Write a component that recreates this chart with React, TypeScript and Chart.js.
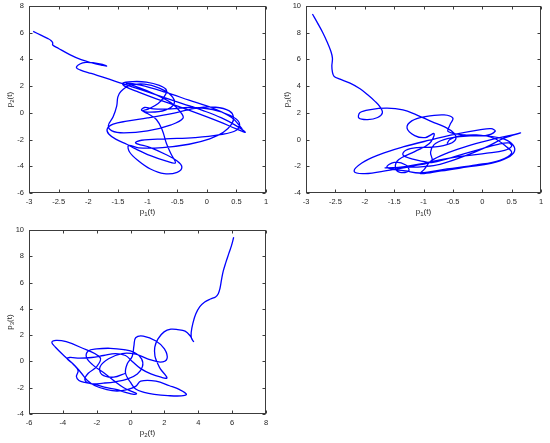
import React, { useEffect, useRef } from "react";
import { Chart, registerables } from "chart.js";

Chart.register(...registerables);

// ---- Data (trajectory projections) ----
// Panel 1: p1(t) vs p2(t)
const pathP1P2: number[][] = [
  [-2.93, 6.1], [-2.8, 5.82], [-2.68, 5.56], [-2.63, 5.42], [-2.6, 5.25], [-2.6, 5.08], [-2.5, 4.82], [-2.32, 4.38],
  [-2.12, 3.98], [-1.92, 3.72], [-1.78, 3.58], [-1.69, 3.5], [-1.76, 3.62], [-1.9, 3.74], [-2.04, 3.78], [-2.14, 3.66],
  [-2.2, 3.4], [-2.14, 3.22],
  [-1.95, 2.95], [-1.7, 2.6], [-1.42, 2.18], [-1.1, 1.72], [-0.75, 1.2], [-0.4, 0.68], [-0.05, 0.15], [0.25, -0.38],
  [0.48, -0.92], [0.65, -1.45],
  [0.5, -1.2], [0.22, -0.68], [-0.12, -0.1], [-0.48, 0.48], [-0.85, 1.05], [-1.15, 1.55], [-1.38, 1.98], [-1.42, 2.22],
  [-1.25, 2.34], [-1.02, 2.3], [-0.8, 2.05], [-0.68, 1.7],
  [-0.72, 1.2], [-0.82, 0.7], [-0.98, 0.3], [-1.08, 0.15], [-1.0, -0.05], [-0.85, -0.5], [-0.75, -1.3], [-0.68, -2.3],
  [-0.6, -3.1], [-0.53, -3.75], [-0.68, -3.62], [-0.95, -3.2], [-1.2, -2.7], [-1.35, -2.35],
  [-1.52, -2.0], [-1.65, -1.6], [-1.68, -1.2], [-1.58, -0.85], [-1.35, -0.62], [-1.0, -0.38], [-0.55, -0.02], [-0.15, 0.38],
  [0.15, 0.42], [0.38, 0.15], [0.45, -0.3], [0.42, -0.85], [0.28, -1.45], [0.05, -1.95], [-0.3, -2.35], [-0.75, -2.6],
  [-1.15, -2.62], [-1.32, -2.45],
  [-1.3, -2.95], [-1.15, -3.6], [-0.95, -4.2], [-0.72, -4.55], [-0.5, -4.45], [-0.42, -4.05], [-0.5, -3.6], [-0.7, -3.1],
  [-0.95, -2.6], [-1.2, -2.25],
  [-1.1, -2.05], [-0.7, -1.95], [-0.2, -1.85], [0.2, -1.65], [0.5, -1.3], [0.55, -0.75], [0.4, -0.2], [0.1, 0.25],
  [-0.3, 0.4], [-0.6, 0.3],
  [-0.9, 0.3], [-1.05, 0.4], [-1.1, 0.2], [-0.95, 0.05], [-0.7, 0.2], [-0.55, 0.7], [-0.6, 1.3], [-0.8, 1.85],
  [-1.05, 2.15], [-1.3, 2.05], [-1.45, 1.6], [-1.5, 1.2], [-1.52, 0.5], [-1.58, -0.3], [-1.66, -0.95], [-1.6, -1.35],
  [-1.4, -1.5], [-1.0, -1.35], [-0.6, -0.9], [-0.4, -0.4], [-0.45, 0.1],
  [-0.6, 0.75], [-0.9, 1.45], [-1.2, 1.98], [-1.36, 2.22], [-1.12, 2.08], [-0.7, 1.55], [-0.3, 0.95], [0.1, 0.35],
  [0.42, -0.35], [0.6, -1.2],
];

// Panel 2: p1(t) vs p3(t)
const pathP1P3: number[][] = [
  [-2.89, 9.4], [-2.8, 8.7], [-2.72, 8.05], [-2.64, 7.3], [-2.58, 6.65], [-2.55, 6.1], [-2.56, 5.5], [-2.55, 5.05],
  [-2.52, 4.72], [-2.42, 4.52], [-2.25, 4.22], [-2.08, 3.8], [-1.95, 3.35], [-1.83, 2.88], [-1.74, 2.45], [-1.7, 2.0],
  [-1.78, 1.65], [-1.95, 1.5], [-2.1, 1.62], [-2.08, 2.02], [-1.9, 2.25], [-1.62, 2.35], [-1.35, 2.22], [-1.12, 1.85],
  [-0.86, 1.35], [-0.64, 0.95], [-0.48, 0.48], [-0.45, 0.05],
  [-0.55, -0.3], [-0.8, -0.55], [-1.1, -0.6], [-1.3, -0.8], [-1.35, -1.15], [-1.2, -1.45], [-0.98, -1.65], [-0.86, -1.72],
  [-0.6, -1.45], [-0.3, -1.05], [0.0, -0.68], [0.25, -0.38], [0.45, -0.25], [0.5, -0.5], [0.38, -0.8], [0.08, -1.02],
  [-0.3, -1.22], [-0.7, -1.5], [-1.05, -1.82], [-1.32, -2.02], [-1.55, -2.12], [-1.65, -2.12], [-1.3, -2.08], [-1.0, -2.02],
  [-0.72, -1.85], [-0.35, -1.32], [0.05, -0.6], [0.38, 0.12], [0.65, 0.5], [0.52, 0.35], [0.2, 0.05], [-0.2, -0.42],
  [-0.58, -0.98], [-0.88, -1.62], [-0.98, -2.2], [-1.05, -2.55], [-0.7, -2.35], [-0.25, -2.05], [0.15, -1.78], [0.42, -1.38],
  [0.55, -0.85], [0.5, -0.3], [0.32, 0.1], [0.0, 0.3], [-0.38, 0.22], [-0.65, 0.0], [-0.82, -0.38], [-0.88, -0.95],
  [-0.86, -1.6],
  [-1.15, -1.95], [-1.6, -2.3], [-2.0, -2.55], [-2.18, -2.38], [-2.05, -1.75], [-1.75, -1.12], [-1.35, -0.55], [-0.9, -0.05],
  [-0.45, 0.4], [-0.05, 0.72], [0.15, 0.82], [0.22, 0.62], [0.05, 0.3],
  [-0.3, 0.35], [-0.58, 0.6], [-0.55, 1.1], [-0.5, 1.6], [-0.65, 1.85], [-0.97, 1.72], [-1.2, 1.4], [-1.28, 0.85],
  [-1.15, 0.3], [-0.97, 0.15], [-0.82, 0.45],
  [-0.9, -0.3], [-1.15, -0.9], [-1.42, -1.5], [-1.48, -2.1], [-1.4, -2.45], [-1.25, -2.35], [-1.3, -1.9], [-1.5, -1.7],
  [-1.62, -2.08], [-1.3, -2.35], [-1.05, -2.5], [-0.6, -2.2], [-0.1, -1.9], [0.3, -1.55], [0.5, -1.0], [0.4, -0.5],
  [0.2, 0.1], [-0.1, 0.35], [-0.4, 0.25], [-0.55, 0.0], [-0.6, -0.3],
];

// Panel 3: p2(t) vs p3(t)
const pathP2P3: number[][] = [
  [6.09, 9.45], [5.97, 8.85], [5.8, 8.2], [5.62, 7.5], [5.47, 6.85], [5.37, 6.2], [5.28, 5.55], [5.18, 5.15],
  [5.02, 4.9], [4.72, 4.75], [4.38, 4.52], [4.08, 4.15], [3.85, 3.6], [3.68, 2.9], [3.58, 2.2], [3.6, 1.75],
  [3.72, 1.52], [3.66, 1.62], [3.52, 1.95], [3.22, 2.3], [2.78, 2.42], [2.38, 2.45], [1.98, 2.25], [1.62, 1.72],
  [1.43, 1.08], [1.44, 0.4], [1.6, -0.15], [1.75, -0.55], [2.15, -1.25], [1.8, -1.2], [1.2, -0.95], [0.6, -0.55],
  [0.1, 0.0], [-0.3, 0.45], [-0.9, 0.6], [-1.6, 0.45], [-2.3, 0.3], [-3.0, 0.25], [-3.6, 0.3], [-3.75, 0.2],
  [-3.4, -0.2], [-3.1, -0.7], [-3.2, -1.15], [-3.05, -1.45], [-2.7, -1.6], [-2.1, -1.75], [-1.4, -2.0], [-0.8, -2.15],
  [-0.3, -2.35], [0.2, -2.5], [0.35, -2.45], [0.1, -2.3], [-0.4, -2.0], [-1.0, -1.45], [-1.6, -0.85], [-2.2, -0.3],
  [-2.6, 0.3], [-2.5, 0.8], [-2.0, 0.95], [-1.2, 1.0], [-0.4, 0.9], [0.2, 0.7], [0.65, 0.2], [0.7, -0.4],
  [0.4, -0.95], [-0.2, -1.35], [-0.9, -1.55], [-1.6, -1.65], [-2.3, -1.7], [-2.7, -1.4], [-2.5, -0.9], [-2.0, -0.4],
  [-1.8, 0.3], [-3.0, 1.1], [-3.8, 1.5], [-4.4, 1.6], [-4.65, 1.45], [-4.45, 1.1], [-3.9, 0.4], [-3.3, -0.3],
  [-2.9, -0.9], [-2.55, -1.45], [-2.1, -1.85], [-1.4, -2.15], [-0.8, -2.25], [-0.2, -2.15], [0.3, -1.9], [0.6, -1.5],
  [1.5, -1.5], [2.3, -1.85], [2.9, -2.15], [3.3, -2.5], [3.0, -2.62], [2.2, -2.6], [1.4, -2.5], [0.8, -2.35],
  [0.3, -2.1], [0.0, -1.6], [-0.3, -0.9], [-0.2, -0.2], [0.1, 0.4], [0.2, 1.2], [0.3, 1.8], [0.75, 1.92],
  [1.5, 1.55], [2.0, 0.95], [2.15, 0.2], [1.75, -0.05], [1.0, 0.2], [0.3, 0.55], [-0.5, 0.6], [-1.3, 0.2],
  [-1.8, -0.4], [-1.7, -1.0], [-1.0, -1.2], [-0.3, -0.9],
];

// Axis ranges / tick steps: [min, max, step]
const rangeP1 = [-3, 1, 0.5];
const rangeP2Top = [-6, 8, 2];
const rangeP3 = [-4, 10, 2];
const rangeP2Bottom = [-6, 8, 2];

// Axis titles: [base, subscript, rest]
const titleP1 = ["p", "1", "(t)"];
const titleP2 = ["p", "2", "(t)"];
const titleP3 = ["p", "3", "(t)"];

const W = 550;
const H = 443;

type Panel = {
  path: number[][];
  xr: number[];
  yr: number[];
  xt: string[];
  yt: string[];
  area: { l: number; r: number; t: number; b: number };
};

const panels: Panel[] = [
  { path: pathP1P2, xr: rangeP1, yr: rangeP2Top, xt: titleP1, yt: titleP2, area: { l: 29, r: 266, t: 6, b: 193 } },
  { path: pathP1P3, xr: rangeP1, yr: rangeP3, xt: titleP1, yt: titleP3, area: { l: 306, r: 541, t: 6, b: 193 } },
  { path: pathP2P3, xr: rangeP2Bottom, yr: rangeP3, xt: titleP2, yt: titleP3, area: { l: 29, r: 266, t: 230, b: 414 } },
];

const TEXT = "#262626";
const FONT = '"Liberation Sans", Arial, Helvetica, sans-serif';

function fmt(v: number): string {
  const r = Math.round(v * 100) / 100;
  return String(Object.is(r, -0) ? 0 : r);
}

function drawSubLabel(ctx: CanvasRenderingContext2D, parts: string[], cx: number, cy: number, rotated: boolean) {
  const [base, sub, rest] = parts;
  ctx.save();
  ctx.translate(cx, cy);
  if (rotated) ctx.rotate(-Math.PI / 2);
  ctx.fillStyle = TEXT;
  ctx.textBaseline = "middle";
  ctx.textAlign = "left";
  const main = `8px ${FONT}`;
  const small = `6px ${FONT}`;
  ctx.font = main;
  const w1 = ctx.measureText(base).width;
  const w3 = ctx.measureText(rest).width;
  ctx.font = small;
  const w2 = ctx.measureText(sub).width;
  let x = -(w1 + w2 + w3) / 2;
  ctx.font = main;
  ctx.fillText(base, x, 0);
  x += w1;
  ctx.font = small;
  ctx.fillText(sub, x, 2.5);
  x += w2;
  ctx.font = main;
  ctx.fillText(rest, x, 0);
  ctx.restore();
}

function scaleTicks(scale: any, r: number[]): number[] {
  if (scale.ticks && scale.ticks.length) {
    return scale.ticks.map((t: any) => t.value);
  }
  const out: number[] = [];
  for (let v = r[0]; v <= r[1] + 1e-9; v += r[2]) out.push(v);
  return out;
}

const framePlugin = {
  id: "frame",
  afterDraw(chart: any, _args: any, opts: any) {
    const ctx: CanvasRenderingContext2D = chart.ctx;
    const { left, right, top, bottom } = chart.chartArea;
    const xs = chart.scales.x;
    const ys = chart.scales.y;
    const L = Math.round(left) + 0.5;
    const R = Math.round(right) - 0.5;
    const T = Math.round(top) + 0.5;
    const B = Math.round(bottom) - 0.5;
    ctx.save();
    ctx.strokeStyle = "#3c3c3c";
    ctx.lineWidth = 1;
    ctx.strokeRect(L, T, R - L, B - T);
    const tl = 3;
    ctx.fillStyle = TEXT;
    ctx.font = `7.5px ${FONT}`;
    ctx.textAlign = "center";
    ctx.textBaseline = "middle";
    for (const v of scaleTicks(xs, opts.xr)) {
      const px = Math.round(xs.getPixelForValue(v)) + 0.5;
      ctx.beginPath();
      ctx.moveTo(px, B);
      ctx.lineTo(px, B - tl);
      ctx.moveTo(px, T);
      ctx.lineTo(px, T + tl);
      ctx.stroke();
      ctx.fillText(fmt(v), xs.getPixelForValue(v), bottom + 9);
    }
    ctx.textAlign = "right";
    for (const v of scaleTicks(ys, opts.yr)) {
      const py = Math.round(ys.getPixelForValue(v)) + 0.5;
      ctx.beginPath();
      ctx.moveTo(L, py);
      ctx.lineTo(L + tl, py);
      ctx.moveTo(R, py);
      ctx.lineTo(R - tl, py);
      ctx.stroke();
      ctx.fillText(fmt(v), left - 5, ys.getPixelForValue(v));
    }
    ctx.restore();
    drawSubLabel(ctx, opts.xt, (left + right) / 2, bottom + 19, false);
    drawSubLabel(ctx, opts.yt, left - 19, (top + bottom) / 2, true);
  },
};

function PanelChart({ panel }: { panel: Panel }) {
  const ref = useRef<HTMLCanvasElement | null>(null);
  useEffect(() => {
    if (!ref.current) return;
    const { path, xr, yr, area } = panel;
    const chart = new Chart(ref.current, {
      type: "scatter",
      data: {
        datasets: [
          {
            data: path.map(([x, y]) => ({ x, y })),
            showLine: true,
            borderColor: "#0000ff",
            borderWidth: 1.3,
            pointRadius: 0,
            pointHoverRadius: 0,
            tension: 0.38,
            fill: false,
          } as any,
        ],
      },
      options: {
        animation: false,
        responsive: false,
        devicePixelRatio: 1,
        events: [],
        layout: { padding: { left: area.l, right: W - area.r, top: area.t, bottom: H - area.b } },
        plugins: {
          legend: { display: false },
          tooltip: { enabled: false },
          frame: { xr, yr, xt: panel.xt, yt: panel.yt },
        } as any,
        scales: {
          x: { type: "linear", display: false, min: xr[0], max: xr[1], ticks: { stepSize: xr[2] } },
          y: { type: "linear", display: false, min: yr[0], max: yr[1], ticks: { stepSize: yr[2] } },
        },
      },
      plugins: [framePlugin as any],
    });
    return () => chart.destroy();
  }, [panel]);
  return (
    <canvas
      ref={ref}
      width={W}
      height={H}
      style={{ position: "absolute", left: 0, top: 0, width: W, height: H, pointerEvents: "none" }}
    />
  );
}

export default function App() {
  return (
    <div style={{ position: "fixed", left: 0, top: 0, width: W, height: H, background: "#ffffff" }}>
      {panels.map((p, i) => (
        <PanelChart key={i} panel={p} />
      ))}
    </div>
  );
}
